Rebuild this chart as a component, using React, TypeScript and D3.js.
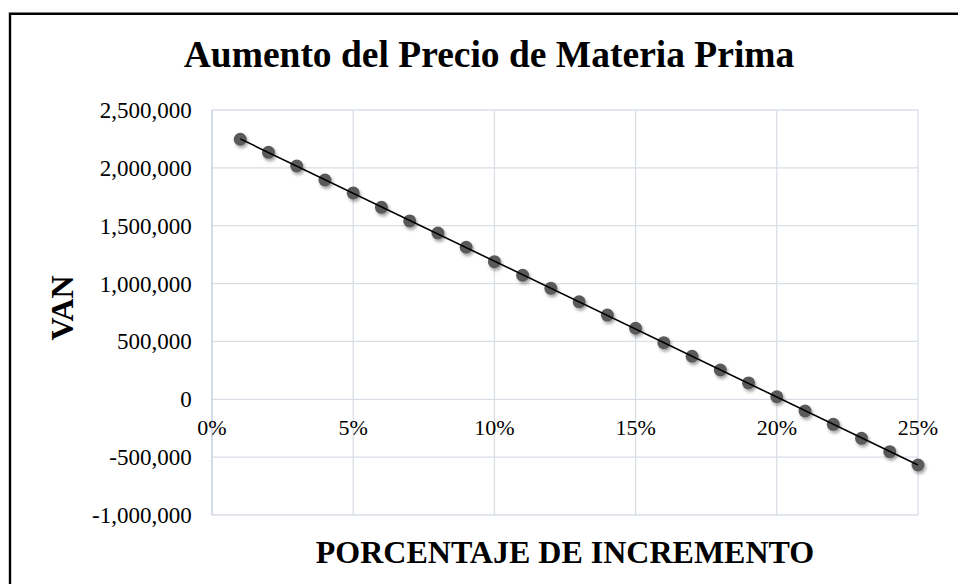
import React from "react";
import * as d3 from "d3";

const percents = [0.01, 0.02, 0.03, 0.04, 0.05, 0.06, 0.07, 0.08, 0.09, 0.1, 0.11, 0.12, 0.13, 0.14, 0.15, 0.16, 0.17, 0.18, 0.19, 0.2, 0.21, 0.22, 0.23, 0.24, 0.25];
const van = [2247000, 2134000, 2016000, 1895000, 1783000, 1659000, 1541000, 1437000, 1314000, 1189000, 1072000, 959000, 843000, 728000, 614000, 489000, 372000, 253000, 141000, 22000, -101000, -216000, -337000, -453000, -568000];
const yTicks = [-1000000, -500000, 0, 500000, 1000000, 1500000, 2000000, 2500000];
const xTicks = [0, 0.05, 0.1, 0.15, 0.2, 0.25];
const title = "Aumento del Precio de Materia Prima";
const xTitle = "PORCENTAJE DE INCREMENTO";
const yTitle = "VAN";

export default function App() {
  const W = 958, H = 584;
  const x = d3.scaleLinear().domain([0, 0.25]).range([212, 918]);
  const y = d3.scaleLinear().domain([-1000000, 2500000]).range([515, 110]);
  const fmtY = (v: number) => d3.format(",")(v).replace("\u2212", "-");
  const fmtX = d3.format(".0%");
  const data = percents.map((p, i) => ({ p, v: van[i] }));

  // linear trendline (least squares) from data
  const mx = d3.mean(percents) as number;
  const my = d3.mean(van) as number;
  const slope = d3.sum(data, d => (d.p - mx) * (d.v - my)) / d3.sum(data, d => (d.p - mx) ** 2);
  const icpt = my - slope * mx;
  const p0 = percents[0], p1 = percents[percents.length - 1];
  const trend = d3.line<number>().x(p => x(p)).y(p => y(icpt + slope * p))([p0, p1]) as string;

  const font = "'Liberation Serif', 'Times New Roman', serif";
  const grid = "#D9DEE7";

  return (
    <svg width={W} height={H} style={{ position: "absolute", left: 0, top: 0 }} fontFamily={font}>
      <defs>
        <filter id="sh" x="-50%" y="-50%" width="200%" height="200%">
          <feDropShadow dx="1.5" dy="2.5" stdDeviation="1.6" floodColor="#000" floodOpacity="0.35" />
        </filter>
      </defs>
      <rect x={0} y={0} width={W} height={H} fill="#fff" />
      <path d={`M10,${H + 5} L10,13.8 L${W + 5},13.8`} fill="none" stroke="#000" strokeWidth={2.4} />

      <text x={489} y={67.3} fontSize={37.5} fontWeight="bold" textAnchor="middle" fill="#000">{title}</text>

      {yTicks.map(t => (
        <line key={"gy" + t} x1={x(0)} x2={x(0.25)} y1={y(t)} y2={y(t)} stroke={grid} strokeWidth={1.3} />
      ))}
      {xTicks.map(t => (
        <line key={"gx" + t} x1={x(t)} x2={x(t)} y1={y(2500000)} y2={y(-1000000)} stroke={t === 0 ? "#BFCADC" : grid} strokeWidth={1.3} />
      ))}

      {yTicks.map(t => (
        <text key={"ly" + t} x={191.7} y={y(t)} dy="0.35em" fontSize={23} textAnchor="end" fill="#000">{fmtY(t)}</text>
      ))}
      {xTicks.map(t => (
        <text key={"lx" + t} x={x(t)} y={435} fontSize={22} textAnchor="middle" fill="#000">{fmtX(t)}</text>
      ))}

      {data.map(d => (
        <circle key={d.p} cx={x(d.p)} cy={y(d.v)} r={6.5} fill="#5A5A5A" filter="url(#sh)" />
      ))}
      <path d={trend} fill="none" stroke="#000" strokeWidth={1.6} />

      <text x={565} y={563} fontSize={32} fontWeight="bold" textAnchor="middle" fill="#000">{xTitle}</text>
      <text transform={`translate(73.3,308) rotate(-90)`} fontSize={32} fontWeight="bold" textAnchor="middle" fill="#000">{yTitle}</text>
    </svg>
  );
}
